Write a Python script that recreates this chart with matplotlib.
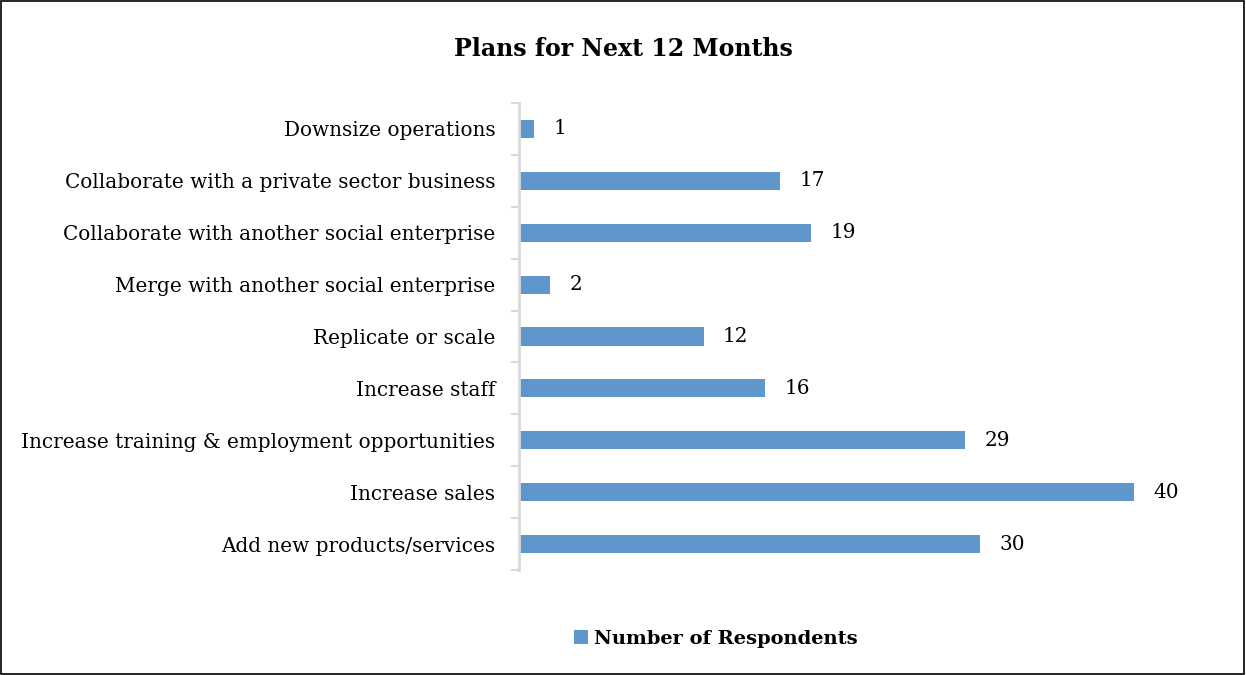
import matplotlib.pyplot as plt
import numpy as np

categories = [
    "Add new products/services",
    "Increase sales",
    "Increase training & employment opportunities",
    "Increase staff",
    "Replicate or scale",
    "Merge with another social enterprise",
    "Collaborate with another social enterprise",
    "Collaborate with a private sector business",
    "Downsize operations",
]
respondents = [30, 40, 29, 16, 12, 2, 19, 17, 1]

bar_color = "#5f96cc"
axis_gray = "#d9d9d9"

plt.rcParams["font.family"] = ["DejaVu Serif"]

fig = plt.figure(figsize=(12.46, 6.75), dpi=100)
ax = fig.add_axes([519 / 1246, 1 - 570 / 675, (1211 - 519) / 1246, (570 - 103) / 675])

y = np.arange(len(categories))
bars = ax.barh(y, respondents, height=0.35, color=bar_color, label="Number of Respondents")

for yi, v in zip(y, respondents):
    ax.annotate(str(v), (v, yi), xytext=(14, 0), textcoords="offset points",
                ha="left", va="center", fontsize=14.4)

ax.set_xlim(0, 45)
ax.set_ylim(-0.5, len(categories) - 0.5)
ax.set_yticks(y)
ax.set_yticklabels(categories, fontsize=14.4)
ax.tick_params(axis="y", length=0, pad=17)
# category boundary ticks on the vertical axis
ax.set_yticks(np.arange(-0.5, len(categories)), minor=True)
ax.tick_params(axis="y", which="minor", length=6, width=1.5, color=axis_gray, direction="out")
ax.set_xticks([])

for side in ["top", "right", "bottom"]:
    ax.spines[side].set_visible(False)
ax.spines["left"].set_color(axis_gray)
ax.spines["left"].set_linewidth(2)

fig.text(0.5, 1 - 49 / 675, "Plans for Next 12 Months", ha="center", va="center",
         fontsize=17, fontweight="bold")

leg = fig.legend(handles=[bars], loc="center", bbox_to_anchor=(716 / 1246, 1 - 639 / 675),
                 frameon=False, handlelength=0.7, handleheight=0.7, handletextpad=0.3,
                 prop={"size": 14, "weight": "bold"})

# thin black border round the whole chart
fig.patches.append(plt.Rectangle((0.001, 0.002), 0.997, 0.996, transform=fig.transFigure,
                                 fill=False, edgecolor="black", linewidth=1.2))

fig.savefig("out.png", dpi=100)
